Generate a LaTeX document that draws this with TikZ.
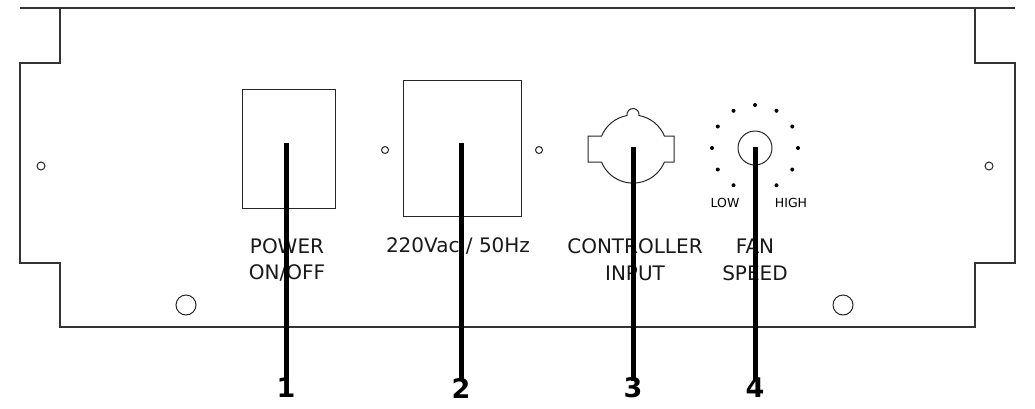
\documentclass[tikz,border=0pt]{standalone}
\usepackage{fontspec}
\setmainfont{DejaVu Sans}
\begin{document}
\begin{tikzpicture}[x=1pt,y=-1pt,
  outl/.style={line width=1.3pt,draw=black!80},
  thin/.style={line width=1pt,draw=black!85},
  lead/.style={line width=5pt,black},
  lbl/.style={font=\fontsize{20}{20}\selectfont,text=black!90,inner sep=0},
  num/.style={font=\bfseries\fontsize{27}{27}\selectfont,inner sep=0}]
\useasboundingbox (0,0) rectangle (1035,408);
\draw[outl] (20,8) -- (1015,8);
\draw[outl] (60,8) -- (60,63) -- (20,63) -- (20,263) -- (60,263) -- (60,327) -- (975,327) -- (975,263) -- (1015,263) -- (1015,63) -- (975,63) -- (975,8);
\draw[thin] (41,166) circle (4) (989,166) circle (4) (186,305) circle (10) (843,305) circle (10);
\node[draw,thin,minimum width=93,minimum height=119,inner sep=0] (p) at (288.5,148.5) {};
\node[draw,thin,minimum width=118,minimum height=136,inner sep=0] (m) at (462,148) {};
\draw[thin] (385,150) circle (3.5) (539,150) circle (3.5);
% controller connector
\draw[thin] (633,149) ++(-22.3:34)
  arc[start angle=-22.3,end angle=-80,radius=34] arc[start angle=10,end angle=-190,radius=6]
  arc[start angle=-100,end angle=-157.7,radius=34] -- (588,136) -- (588,162)
  -- (601.5,162) arc[start angle=157.7,end angle=22.3,radius=34] -- (674,162) -- (674,136) -- cycle;
% fan knob
\draw[thin] (755,148) circle (17);
\foreach \a in {120,150,...,420} \fill (755,148) ++(\a:43) circle (2);
\node[font=\fontsize{12.5}{12}\selectfont,inner sep=0] (lo) at (725,203) {LOW};
\node[font=\fontsize{12.5}{12}\selectfont,inner sep=0] (hi) at (791,203) {HIGH};
\node[lbl] (t1) at (287,246) {POWER};
\node[lbl] (t1b) at (287,273) {ON/OFF};
\node[lbl] (t2) at (458,246) {220Vac / 50Hz};
\node[lbl] (t3) at (635,246) {CONTROLLER};
\node[lbl] (t3b) at (635,273) {INPUT};
\node[lbl] (t4) at (755,246) {FAN};
\node[lbl] (t4b) at (755,273) {SPEED};
\node[num] (n1) at (286,388) {1};
\node[num] (n2) at (461,388) {2};
\node[num] (n3) at (633,388) {3};
\node[num] (n4) at (755,388) {4};
\coordinate (s1) at (286,143); \coordinate (s2) at (461,143);
\coordinate (s3) at (633,147); \coordinate (s4) at (755,147);
\foreach \i in {1,...,4} \draw[lead] (s\i) -- ([yshift=-3]n\i.north);
\end{tikzpicture}
\end{document}
